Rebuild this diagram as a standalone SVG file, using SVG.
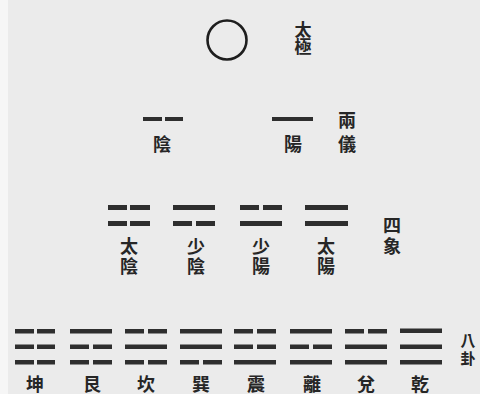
<svg xmlns="http://www.w3.org/2000/svg" width="480" height="394" viewBox="0 0 480 394">
<style>
.bg{fill:#ebebeb}
.ln{fill:#2e2e2e}
.t{font-family:"Noto Sans CJK TC","Noto Sans CJK SC",sans-serif;font-size:18px;font-weight:bold;fill:#262626;text-anchor:middle}
.v{font-family:"Noto Sans CJK TC","Noto Sans CJK SC",sans-serif;font-size:18px;font-weight:bold;fill:#262626;writing-mode:vertical-rl;text-anchor:start}
</style>
<rect class="bg" x="0" y="0" width="480" height="394"/>
<rect x="0" y="0" width="8" height="394" fill="#f6f6f6"/>
<g id="taiji">
<circle cx="227" cy="40" r="19.5" fill="none" stroke="#1e1e1e" stroke-width="2.6"/>
<text class="v" x="303" y="21" style="font-size:17px;letter-spacing:0.5px">太極</text>
</g>
<g id="yin">
<rect class="ln" x="143" y="117" width="19" height="4"/>
<rect class="ln" x="165" y="117" width="18" height="4"/>
<text class="t" x="162" y="150.5">陰</text>
</g>
<g id="yang">
<rect class="ln" x="272" y="117" width="41" height="4"/>
<text class="t" x="293" y="150.5">陽</text>
</g>
<g id="liangyi">
<text class="v" x="347" y="111" style="letter-spacing:6px">兩儀</text>
</g>
<g id="taiyin">
<rect class="ln" x="108" y="205" width="19" height="5"/>
<rect class="ln" x="130" y="205" width="20" height="5"/>
<rect class="ln" x="108" y="221" width="19" height="5"/>
<rect class="ln" x="130" y="221" width="20" height="5"/>
<text class="v" x="129" y="237" style="letter-spacing:2px">太陰</text>
</g>
<g id="shaoyin">
<rect class="ln" x="173" y="205" width="42" height="5"/>
<rect class="ln" x="173" y="221" width="19" height="5"/>
<rect class="ln" x="196" y="221" width="19" height="5"/>
<text class="v" x="196" y="237" style="letter-spacing:2px">少陰</text>
</g>
<g id="shaoyang">
<rect class="ln" x="240" y="205" width="19" height="5"/>
<rect class="ln" x="263" y="205" width="19" height="5"/>
<rect class="ln" x="240" y="221" width="42" height="5"/>
<text class="v" x="261" y="237" style="letter-spacing:2px">少陽</text>
</g>
<g id="taiyang">
<rect class="ln" x="305" y="205" width="43" height="5"/>
<rect class="ln" x="305" y="221" width="43" height="5"/>
<text class="v" x="326" y="237" style="letter-spacing:2px">太陽</text>
</g>
<g id="sixiang">
<text class="v" x="392" y="216" style="letter-spacing:3px">四象</text>
</g>
<g id="kun">
<rect class="ln" x="15" y="329" width="19" height="4.5"/>
<rect class="ln" x="37" y="329" width="18" height="4.5"/>
<rect class="ln" x="15" y="344.5" width="19" height="4.5"/>
<rect class="ln" x="37" y="344.5" width="18" height="4.5"/>
<rect class="ln" x="15" y="360" width="19" height="4.5"/>
<rect class="ln" x="37" y="360" width="18" height="4.5"/>
<text class="t" x="35" y="390.5">坤</text>
</g>
<g id="gen">
<rect class="ln" x="70" y="329" width="42" height="4.5"/>
<rect class="ln" x="70" y="344.5" width="19" height="4.5"/>
<rect class="ln" x="93" y="344.5" width="19" height="4.5"/>
<rect class="ln" x="70" y="360" width="19" height="4.5"/>
<rect class="ln" x="93" y="360" width="19" height="4.5"/>
<text class="t" x="92" y="390.5">艮</text>
</g>
<g id="kan">
<rect class="ln" x="125" y="329" width="19" height="4.5"/>
<rect class="ln" x="148" y="329" width="19" height="4.5"/>
<rect class="ln" x="125" y="344.5" width="42" height="4.5"/>
<rect class="ln" x="125" y="360" width="19" height="4.5"/>
<rect class="ln" x="148" y="360" width="19" height="4.5"/>
<text class="t" x="146" y="390.5">坎</text>
</g>
<g id="xun">
<rect class="ln" x="180" y="329" width="42" height="4.5"/>
<rect class="ln" x="180" y="344.5" width="42" height="4.5"/>
<rect class="ln" x="180" y="360" width="19" height="4.5"/>
<rect class="ln" x="203" y="360" width="19" height="4.5"/>
<text class="t" x="201" y="390.5">巽</text>
</g>
<g id="zhen">
<rect class="ln" x="234" y="329" width="19" height="4.5"/>
<rect class="ln" x="257" y="329" width="19" height="4.5"/>
<rect class="ln" x="234" y="344.5" width="19" height="4.5"/>
<rect class="ln" x="257" y="344.5" width="19" height="4.5"/>
<rect class="ln" x="234" y="360" width="42" height="4.5"/>
<text class="t" x="256" y="390.5">震</text>
</g>
<g id="li">
<rect class="ln" x="290" y="329" width="42" height="4.5"/>
<rect class="ln" x="290" y="344.5" width="19" height="4.5"/>
<rect class="ln" x="313" y="344.5" width="19" height="4.5"/>
<rect class="ln" x="290" y="360" width="42" height="4.5"/>
<text class="t" x="312" y="390.5">離</text>
</g>
<g id="dui">
<rect class="ln" x="345" y="329" width="19" height="4.5"/>
<rect class="ln" x="368" y="329" width="19" height="4.5"/>
<rect class="ln" x="345" y="344.5" width="42" height="4.5"/>
<rect class="ln" x="345" y="360" width="42" height="4.5"/>
<text class="t" x="366" y="390.5">兌</text>
</g>
<g id="qian">
<rect class="ln" x="400" y="328.5" width="42" height="4.5"/>
<rect class="ln" x="400" y="344.5" width="42" height="4.5"/>
<rect class="ln" x="400" y="360" width="42" height="4.5"/>
<text class="t" x="420" y="390.5">乾</text>
</g>
<g id="bagua">
<text class="v" x="468" y="333" style="font-size:15px;letter-spacing:3px">八卦</text>
</g>
</svg>
